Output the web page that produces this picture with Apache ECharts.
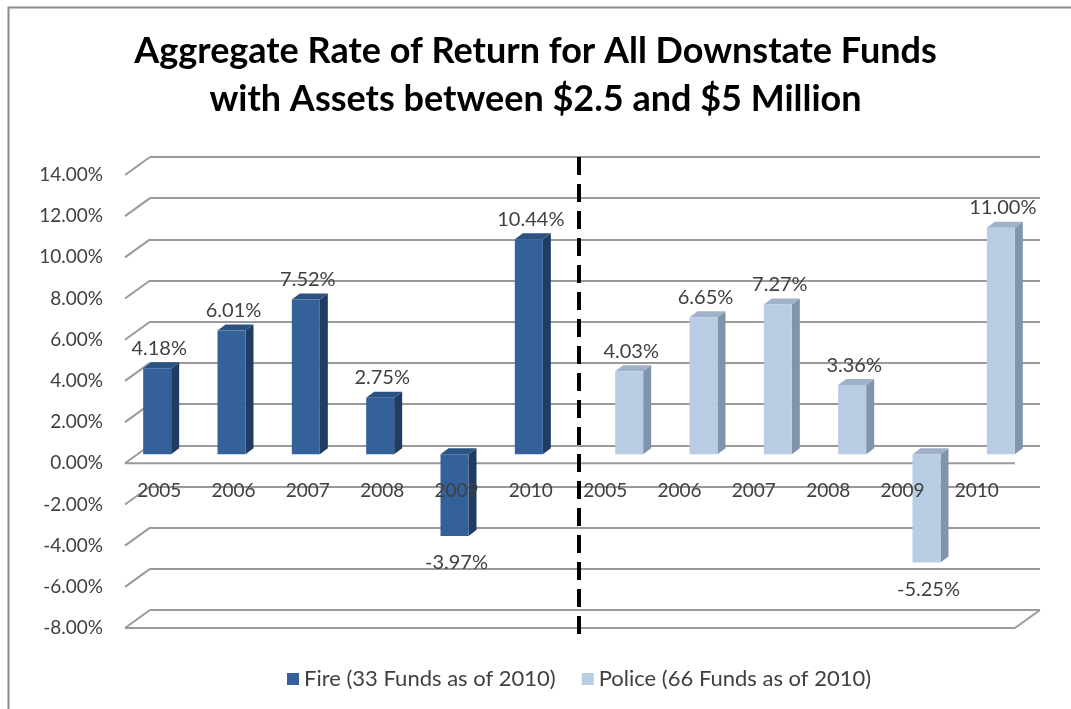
<!DOCTYPE html>
<html>
<head>
<meta charset="utf-8">
<style>
  html, body { margin: 0; padding: 0; background: #fff; }
  #chart { width: 1071px; height: 709px; }
</style>
<script src="https://cdn.jsdelivr.net/npm/echarts@6/dist/echarts.min.js"></script>
</head>
<body>
<div id="chart"></div>
<script>
// data
const years = ['2005', '2006', '2007', '2008', '2009', '2010', '2005', '2006', '2007', '2008', '2009', '2010']
const fireValues = [4.18, 6.01, 7.52, 2.75, -3.97, 10.44]
const policeValues = [4.03, 6.65, 7.27, 3.36, -5.25, 11.00]
const yTicks = [-8, -6, -4, -2, 0, 2, 4, 6, 8, 10, 12, 14]

const font = 'Lato, "Open Sans", sans-serif'
const fireData = fireValues.map((v, i) => [i, v])
const policeData = policeValues.map((v, i) => [i + 6, v])

// pseudo 3d column: front face, right side, top
const column = (colors, shift) => (params, api) => {
  const i = api.value(0)
  const v = api.value(1)
  const p = api.coord([i, v])
  const z = api.coord([i, 0])
  const w = 28, dx = 8, dy = 6
  const x0 = p[0] + shift - w / 2
  const x1 = x0 + w
  const top = Math.min(p[1], z[1])
  const bot = Math.max(p[1], z[1])
  const label = v.toFixed(2) + '%'
  return {
    type: 'group',
    children: [
      { type: 'polygon', shape: { points: [[x1, top], [x1 + dx, top - dy], [x1 + dx, bot - dy], [x1, bot]] }, style: { fill: colors.side } },
      { type: 'polygon', shape: { points: [[x0, top], [x0 + dx, top - dy], [x1 + dx, top - dy], [x1, top]] }, style: { fill: colors.top } },
      { type: 'rect', shape: { x: x0, y: top, width: w, height: bot - top }, style: { fill: colors.front } },
      {
        type: 'text',
        style: {
          text: label,
          x: x0 + w / 2 + 2,
          y: v >= 0 ? top - 10 : bot + 17,
          align: 'center',
          verticalAlign: v >= 0 ? 'bottom' : 'top',
          font: '20px ' + font,
          fill: '#404040'
        }
      }
    ]
  }
}

const chart = echarts.init(document.getElementById('chart'))

const option = {
  backgroundColor: '#fff',
  graphic: [
    { type: 'rect', left: 6, top: 5, shape: { width: 1080, height: 720 }, style: { fill: 'none', stroke: '#8c8c8c', lineWidth: 2 } }
  ],
  title: {
    text: 'Aggregate Rate of Return for All Downstate Funds\nwith Assets between $2.5 and $5 Million',
    left: 'center',
    top: 22,
    textStyle: { fontFamily: font, fontSize: 36, fontWeight: 'bold', color: '#000', lineHeight: 48 }
  },
  legend: {
    bottom: 14,
    left: 282,
    itemWidth: 12,
    itemHeight: 12,
    itemGap: 26,
    icon: 'rect',
    textStyle: { fontFamily: font, fontSize: 22, color: '#404040' },
    data: ['Fire (33 Funds as of 2010)', 'Police (66 Funds as of 2010)']
  },
  grid: [
    // back wall
    { left: 150, right: 31, top: 157, bottom: 99 },
    // front edge, carries the y labels
    { left: 125, right: 56, top: 175, bottom: 81 },
    // plane of the columns
    { left: 133, right: 46, top: 166, bottom: 90 }
  ],
  xAxis: [
    { gridIndex: 0, type: 'value', min: 0, max: 1, show: false },
    { gridIndex: 1, type: 'value', min: 0, max: 1, show: false },
    {
      gridIndex: 2,
      type: 'category',
      data: years,
      position: 'bottom',
      offset: -165,
      z: 10,
      axisLine: { show: false, onZero: false },
      axisTick: { show: false },
      axisLabel: { margin: 27, fontFamily: font, fontSize: 19, color: '#404040', padding: [0, 22, 0, 0] }
    }
  ],
  yAxis: [
    {
      gridIndex: 0, type: 'value', min: -8, max: 14, interval: 2,
      axisLabel: { show: false }, axisLine: { show: false }, axisTick: { show: false },
      splitLine: { lineStyle: { color: '#9a9a9a', width: 2 } }
    },
    {
      gridIndex: 1, type: 'value', min: -8, max: 14, interval: 2,
      axisLine: { show: false }, axisTick: { show: false }, splitLine: { show: false },
      axisLabel: { margin: 22, fontFamily: font, fontSize: 19, color: '#404040', formatter: v => v.toFixed(2) + '%' }
    },
    { gridIndex: 2, type: 'value', min: -8, max: 14, interval: 2, show: false }
  ],
  series: [
    {
      // left wall edges and the floor edges
      type: 'custom',
      xAxisIndex: 1,
      yAxisIndex: 1,
      silent: true,
      data: yTicks.map(v => [0, v]),
      renderItem: (params, api) => {
        const v = api.value(1)
        const a = api.coord([0, v])
        const b = api.coord([1, v])
        const children = [
          { type: 'line', shape: { x1: a[0], y1: a[1], x2: a[0] + 25, y2: a[1] - 18 }, style: { stroke: '#9a9a9a', lineWidth: 2 } }
        ]
        if (v === 0 || v === -8) {
          children.push({ type: 'line', shape: { x1: a[0], y1: a[1], x2: b[0], y2: b[1] }, style: { stroke: '#9a9a9a', lineWidth: 2 } })
        }
        if (v === -8) {
          children.push({ type: 'line', shape: { x1: b[0], y1: b[1], x2: b[0] + 25, y2: b[1] - 18 }, style: { stroke: '#9a9a9a', lineWidth: 2 } })
        }
        return { type: 'group', children }
      }
    },
    {
      name: 'Fire (33 Funds as of 2010)',
      type: 'custom',
      xAxisIndex: 2,
      yAxisIndex: 2,
      itemStyle: { color: '#34619a' },
      data: fireData,
      renderItem: column({ front: '#34619a', side: '#1f3d63', top: '#2a5283' }, -13)
    },
    {
      name: 'Police (66 Funds as of 2010)',
      type: 'custom',
      xAxisIndex: 2,
      yAxisIndex: 2,
      itemStyle: { color: '#b8cce4' },
      data: policeData,
      renderItem: column({ front: '#b8cce4', side: '#8294ab', top: '#9fb2ca' }, 13)
    },
    {
      // dashed divider between the two groups
      type: 'custom',
      xAxisIndex: 2,
      yAxisIndex: 2,
      silent: true,
      data: [[5, 14]],
      renderItem: (params, api) => {
        const a = api.coord([5, 14])
        const b = api.coord([6, -8])
        const x = (a[0] + b[0]) / 2
        return {
          type: 'line',
          shape: { x1: x, y1: a[1] - 9, x2: x, y2: b[1] + 16 },
          style: { stroke: '#000', lineWidth: 4, lineDash: [18, 9] }
        }
      }
    }
  ]
}

chart.setOption(option)
window.addEventListener('resize', () => chart.resize())
</script>
</body>
</html>
